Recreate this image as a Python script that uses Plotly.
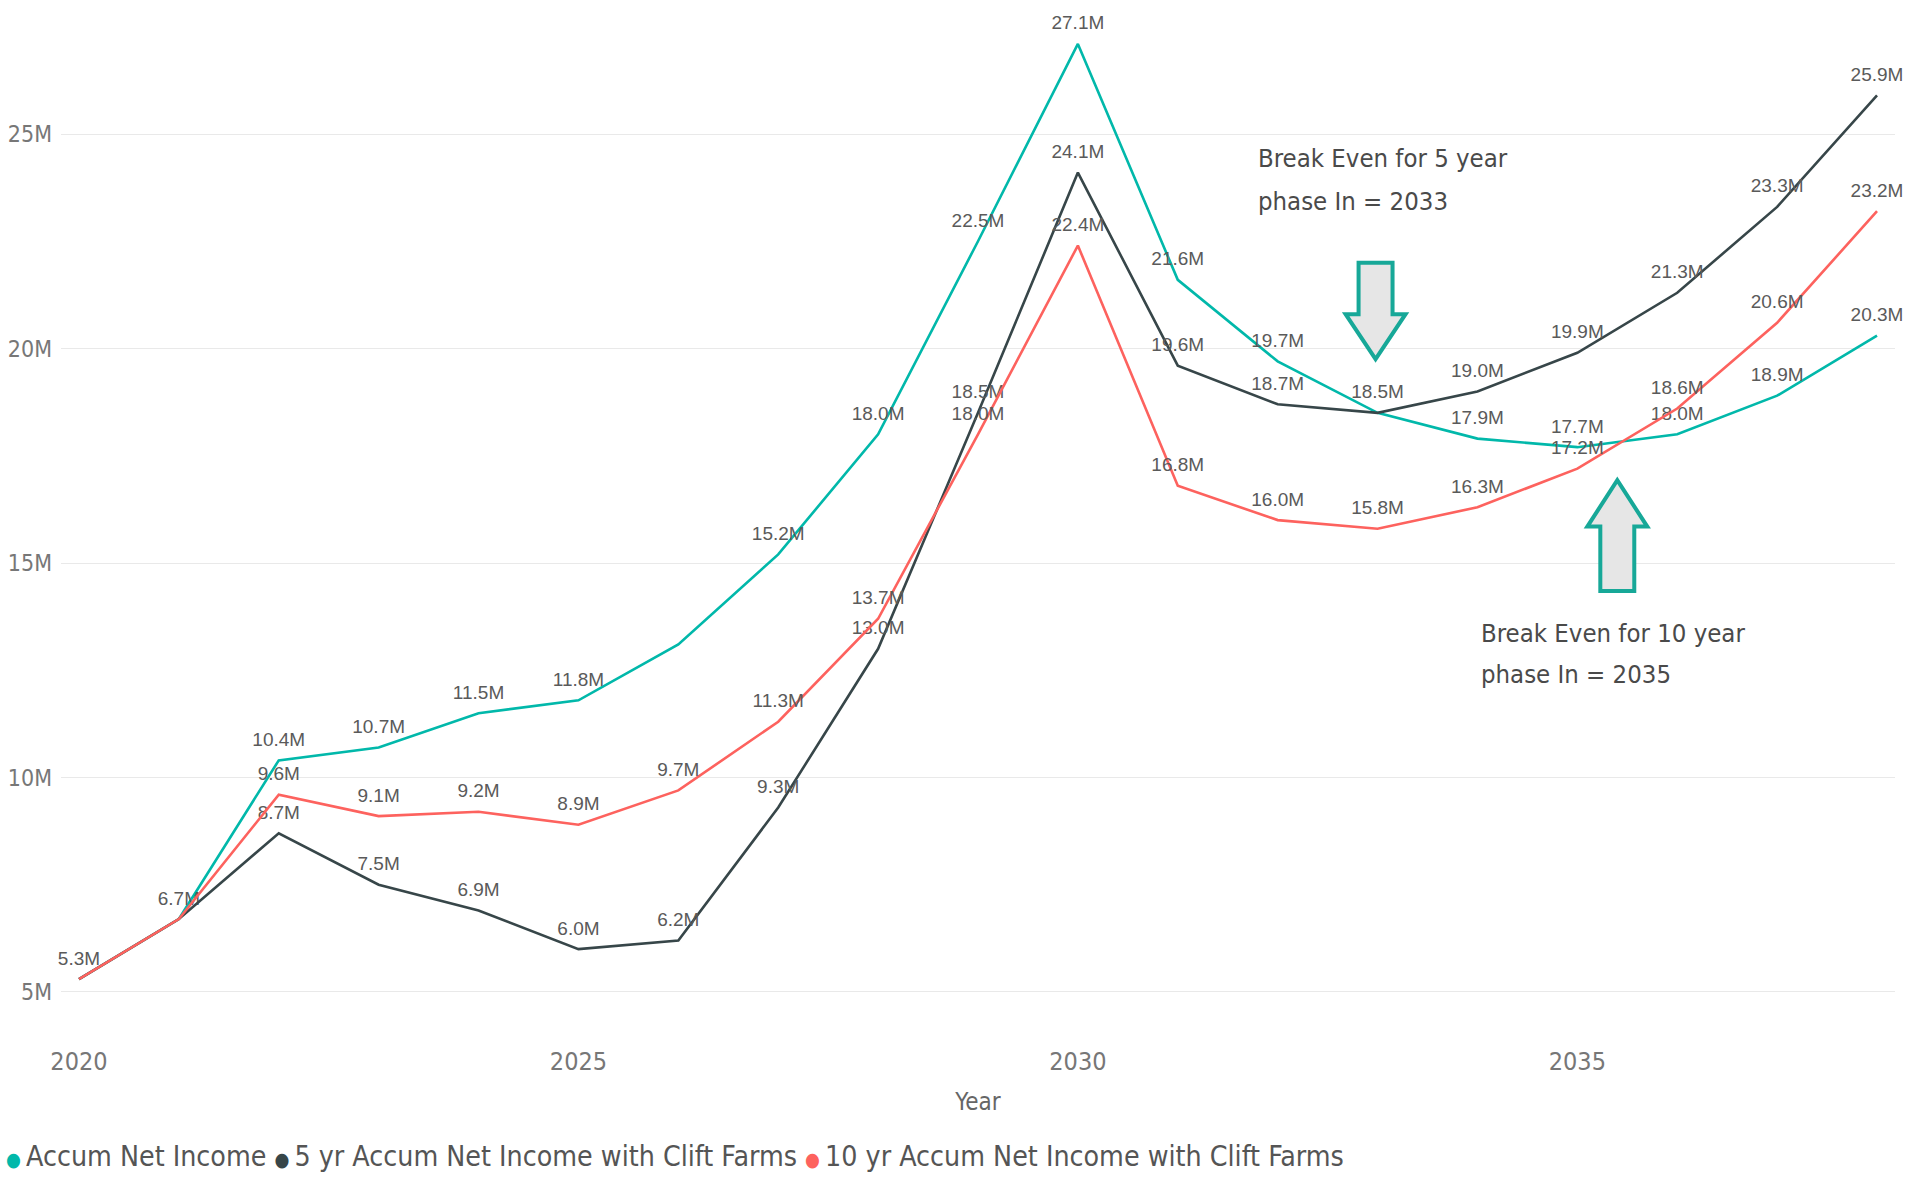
import plotly.graph_objects as go

# ---- data -------------------------------------------------------------
years = list(range(2020, 2039))

accum_net_income = [5.3, 6.7, 10.4, 10.7, 11.5, 11.8, 13.1, 15.2, 18.0, 22.5,
                    27.1, 21.6, 19.7, 18.5, 17.9, 17.7, 18.0, 18.9, 20.3]
accum_5yr_clift = [5.3, 6.7, 8.7, 7.5, 6.9, 6.0, 6.2, 9.3, 13.0, 18.5,
                   24.1, 19.6, 18.7, 18.5, 19.0, 19.9, 21.3, 23.3, 25.9]
accum_10yr_clift = [5.3, 6.7, 9.6, 9.1, 9.2, 8.9, 9.7, 11.3, 13.7, 18.0,
                    22.4, 16.8, 16.0, 15.8, 16.3, 17.2, 18.6, 20.6, 23.2]

series_names = ["Accum Net Income",
                "5 yr Accum Net Income with Clift Farms",
                "10 yr Accum Net Income with Clift Farms"]
series_colors = ["#01B8AA", "#374649", "#FD625E"]

# years whose data label is suppressed (overlapping labels)
hidden_labels = [[2026], [2020, 2021, 2033], [2020, 2021]]

y_ticks = [5, 10, 15, 20, 25]
y_tick_text = ["5M", "10M", "15M", "20M", "25M"]
x_ticks = [2020, 2025, 2030, 2035]

NARROW = "DejaVu Sans Condensed, Liberation Sans Narrow, Liberation Sans, sans-serif"
LABEL_FONT = "Liberation Sans, Arial, sans-serif"

fig = go.Figure()

all_values = [accum_net_income, accum_5yr_clift, accum_10yr_clift]
for name, color, vals, hidden in zip(series_names, series_colors, all_values, hidden_labels):
    labels = ["" if yr in hidden else f"{v:.1f}M" for yr, v in zip(years, vals)]
    fig.add_trace(go.Scatter(
        x=years, y=vals, name=name, mode="lines+markers+text",
        line=dict(color=color, width=2.6),
        marker=dict(size=14, color="rgba(0,0,0,0)"),
        text=labels, textposition="top center",
        textfont=dict(family=LABEL_FONT, size=19, color="#5a5a5a"),
        showlegend=False, hoverinfo="skip", cliponaxis=False,
    ))

# ---- block arrows marking the break-even years ------------------------
def down_arrow(xc, top, head, tip, shaft=0.17, wing=0.30):
    return (f"M {xc-shaft} {top} L {xc+shaft} {top} L {xc+shaft} {head} "
            f"L {xc+wing} {head} L {xc} {tip} L {xc-wing} {head} "
            f"L {xc-shaft} {head} Z")

def up_arrow(xc, bottom, head, tip, shaft=0.17, wing=0.30):
    return (f"M {xc-shaft} {bottom} L {xc+shaft} {bottom} L {xc+shaft} {head} "
            f"L {xc+wing} {head} L {xc} {tip} L {xc-wing} {head} "
            f"L {xc-shaft} {head} Z")

arrow_style = dict(type="path", xref="x", yref="y",
                   line=dict(color="#17A898", width=4),
                   fillcolor="#E6E6E6", layer="above")
fig.add_shape(path=down_arrow(2032.98, 22.0, 20.8, 19.75), **arrow_style)
fig.add_shape(path=up_arrow(2035.4, 14.35, 15.85, 16.93), **arrow_style)

# ---- break-even notes (one annotation per line for wider leading) -----
note_font = dict(family=NARROW, size=25.5, color="#4a4a4a")
notes = [
    (2031.78, 24.44, "Break Even for 5 year"),
    (2031.78, 23.44, "phase In = 2033"),
    (2034.02, 13.37, "Break Even for 10 year"),
    (2034.02, 12.41, "phase In = 2035"),
]
for nx, ny, txt in notes:
    fig.add_annotation(x=nx, y=ny, xref="x", yref="y", text=txt,
                       showarrow=False, xanchor="left", yanchor="middle",
                       align="left", font=note_font)

# ---- legend row -------------------------------------------------------
W, H = 1911, 1182
L_M, R_M, top_m, bot_m = 61, 16, 6, 152
plot_h = H - top_m - bot_m
plot_w = W - L_M - R_M

legend_parts = [
    f"<span style='color:{color};font-size:19px'>●</span>\u2009{name}"
    for name, color in zip(series_names, series_colors)
]
fig.add_annotation(x=(4 - L_M) / plot_w, y=(H - bot_m - 1156) / plot_h,
                   xref="paper", yref="paper",
                   text=" ".join(legend_parts),
                   showarrow=False, xanchor="left", yanchor="middle",
                   font=dict(family=NARROW, size=28.3, color="#555555"))

fig.update_layout(
    width=W, height=H,
    margin=dict(l=L_M, r=R_M, t=top_m, b=bot_m, pad=0, autoexpand=False),
    plot_bgcolor="white", paper_bgcolor="white",
    xaxis=dict(range=[2019.82, 2038.18], tickvals=x_ticks, automargin=False,
               showgrid=False, zeroline=False, showline=False, ticks="",
               ticklabelstandoff=14,
               tickfont=dict(family=NARROW, size=25, color="#777777"),
               title=dict(text="Year", standoff=18,
                          font=dict(family=NARROW, size=24, color="#666666"))),
    yaxis=dict(range=[4.114, 27.984], tickvals=y_ticks, ticktext=y_tick_text,
               automargin=False,
               showgrid=True, gridcolor="#E9E9E9", gridwidth=1,
               zeroline=False, showline=False, ticks="",
               ticklabelstandoff=8,
               tickfont=dict(family=NARROW, size=23, color="#777777")),
    showlegend=False,
)

fig.write_html("out.html")
